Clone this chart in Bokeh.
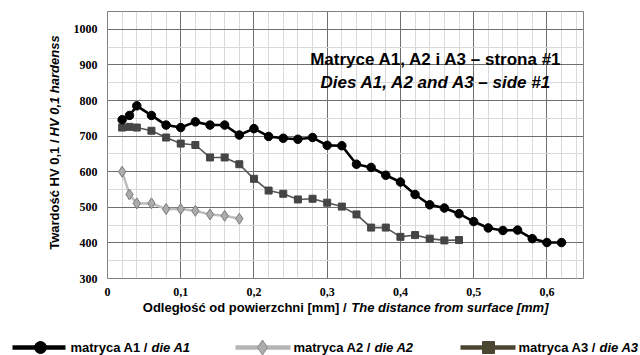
import math
from bokeh.plotting import figure
from bokeh.models import Range1d, FixedTicker, CustomJSTickFormatter, Label
from bokeh.layouts import column, row
from bokeh.embed import file_html
from bokeh.resources import INLINE

# ---- data ----
x_a1 = [0.02, 0.03, 0.04, 0.06, 0.08, 0.10, 0.12, 0.14, 0.16, 0.18, 0.20, 0.22, 0.24, 0.26, 0.28, 0.30,
        0.32, 0.34, 0.36, 0.38, 0.40, 0.42, 0.44, 0.46, 0.48, 0.50, 0.52, 0.54, 0.56, 0.58, 0.60, 0.62]
y_a1 = [746, 758, 785, 758, 731, 724, 740, 731, 731, 703, 721, 699, 694, 691, 696, 674,
        673, 621, 612, 590, 571, 536, 507, 498, 482, 460, 442, 435, 436, 412, 401, 401]

x_a2 = [0.02, 0.03, 0.04, 0.06, 0.08, 0.10, 0.12, 0.14, 0.16, 0.18]
y_a2 = [600, 536, 511, 511, 495, 495, 490, 480, 476, 468]

x_a3 = [0.02, 0.03, 0.04, 0.06, 0.08, 0.10, 0.12, 0.14, 0.16, 0.18, 0.20, 0.22, 0.24, 0.26, 0.28, 0.30,
        0.32, 0.34, 0.36, 0.38, 0.40, 0.42, 0.44, 0.46, 0.48]
y_a3 = [724, 726, 724, 715, 696, 679, 675, 640, 640, 621, 580, 547, 538, 522, 524, 513,
        502, 480, 443, 443, 417, 422, 412, 407, 408]

x_major = [0, 0.1, 0.2, 0.3, 0.4, 0.5, 0.6]
y_major = [300, 400, 500, 600, 700, 800, 900, 1000]

title_1 = "Matryce A1, A2 i A3 \u2013 strona #1"
title_2 = "Dies A1, A2 and A3 \u2013 side #1"
xlabel_plain = "Odleg\u0142o\u015b\u0107 od powierzchni [mm] /"
xlabel_it = "The distance from surface [mm]"
ylabel_plain = "Twardo\u015b\u0107 HV 0,1 /"
ylabel_it = "HV 0,1 hardenss"
leg_plain = ["matryca A1 /", "matryca A2 /", "matryca A3 /"]
leg_it = ["die A1", "die A2", "die A3"]

SANS = "'Liberation Sans', Arial, sans-serif"
SERIF = "'Liberation Serif', 'Times New Roman', serif"


def strip(width, height, xr, yr, **kw):
    f = figure(width=width, height=height, output_backend="svg", toolbar_location=None,
               x_range=Range1d(*xr), y_range=Range1d(*yr), x_axis_type=None, y_axis_type=None,
               min_border_left=kw.get("l", 0), min_border_right=kw.get("r", 0),
               min_border_top=kw.get("t", 0), min_border_bottom=kw.get("b", 0))
    f.grid.visible = False
    f.outline_line_color = None
    f.background_fill_color = "white"
    f.border_fill_color = "white"
    return f


def label(fig, x, y, text, style, size="13px", align="left", angle=0.0, baseline="middle"):
    fig.add_layout(Label(x=x, y=y, text=text, text_font=SANS, text_font_style=style,
                         text_font_size=size, text_align=align, text_baseline=baseline,
                         angle=angle, text_color="black"))


# ---- main figure ----
p = figure(width=576, height=301, output_backend="svg", toolbar_location=None,
           x_range=Range1d(0, 0.65), y_range=Range1d(300, 1050),
           min_border_left=43, min_border_right=57, min_border_top=11, min_border_bottom=23)
p.background_fill_color = "white"
p.border_fill_color = "white"
p.outline_line_color = "#808080"
p.outline_line_width = 1

x_minor = [round(i * 0.02, 2) for i in range(0, 33)]
y_minor = [300 + 50 * i for i in range(0, 16)]
p.xaxis.ticker = FixedTicker(ticks=x_major, minor_ticks=x_minor)
p.yaxis.ticker = FixedTicker(ticks=y_major, minor_ticks=y_minor)
p.xaxis.formatter = CustomJSTickFormatter(code="""
    if (Math.abs(tick) < 1e-9) return '0';
    return tick.toFixed(1).replace('.', ',');
""")
for ax in (p.xaxis[0], p.yaxis[0]):
    ax.axis_line_color = None
    ax.major_tick_line_color = None
    ax.minor_tick_line_color = None
    ax.major_tick_out = 0
    ax.major_tick_in = 0
    ax.minor_tick_out = 0
    ax.minor_tick_in = 0
    ax.major_label_text_font = SERIF
    ax.major_label_text_font_style = "bold"
    ax.major_label_text_font_size = "12px"
    ax.major_label_text_color = "black"
p.xaxis.major_label_standoff = 9
p.yaxis.major_label_standoff = 10

for g in (p.xgrid[0], p.ygrid[0]):
    g.grid_line_color = "#6e6e6e"
    g.grid_line_width = 1
    g.minor_grid_line_color = "#d9d9d9"
    g.minor_grid_line_width = 1

# series
p.line(x_a2, y_a2, line_color="#bcbcbc", line_width=2.5)
p.scatter(x_a2, y_a2, marker="diamond", size=11, fill_color="#acacac", line_color="#7a7a7a", line_width=1)

p.line(x_a3, y_a3, line_color="#555555", line_width=1.6)
p.scatter(x_a3, y_a3, marker="square", size=7, fill_color="#454545", line_color="#454545")

p.line(x_a1, y_a1, line_color="black", line_width=2.6)
p.scatter(x_a1, y_a1, marker="circle", size=8.5, fill_color="black", line_color="black")

# title texts
label(p, 0.449, 915, title_1, "bold", size="17px", align="center", baseline="alphabetic")
label(p, 0.449, 851, title_2, "bold italic", size="17px", align="center", baseline="alphabetic")

# ---- left strip: y axis label (mixed styles, rotated) ----
left = strip(64, 301, (0, 64), (278, 11), t=11, b=23)
label(left, 54, 139, ylabel_plain, "bold", align="right", angle=math.pi / 2)
label(left, 54, 136, ylabel_it, "bold italic", align="left", angle=math.pi / 2)

# ---- bottom strip: x axis label + legend ----
bot = strip(640, 54, (0, 640), (355, 301))
label(bot, 346, 307, xlabel_plain, "bold", align="right")
label(bot, 548, 307, xlabel_it, "bold italic", align="right")

ly = 347
sample_x0 = [12, 235, 460]
sample_x1 = [65, 290, 515]
marker_x = [40, 262, 488]
text_x = [70, 293, 518]
line_cols = ["black", "#b4b4b4", "#4a4530"]
bot.segment(x0=sample_x0, y0=[ly] * 3, x1=sample_x1, y1=[ly] * 3, line_color=line_cols, line_width=4.5)
bot.scatter([marker_x[0]], [ly], marker="circle", size=12, fill_color="black", line_color="black")
bot.scatter([marker_x[1]], [ly], marker="diamond", size=15, fill_color="#acacac", line_color="#8a8a8a")
bot.scatter([marker_x[2]], [ly], marker="square", size=12, fill_color="#4a4530", line_color="#4a4530")
for tx, tp, ti in zip(text_x, leg_plain, leg_it):
    label(bot, tx, ly, tp, "bold", align="left")
    label(bot, tx + 81, ly, ti, "bold italic", align="left")

layout = column(row(left, p, spacing=0), bot, spacing=0)
open("out.html", "w").write(file_html(layout, INLINE))
